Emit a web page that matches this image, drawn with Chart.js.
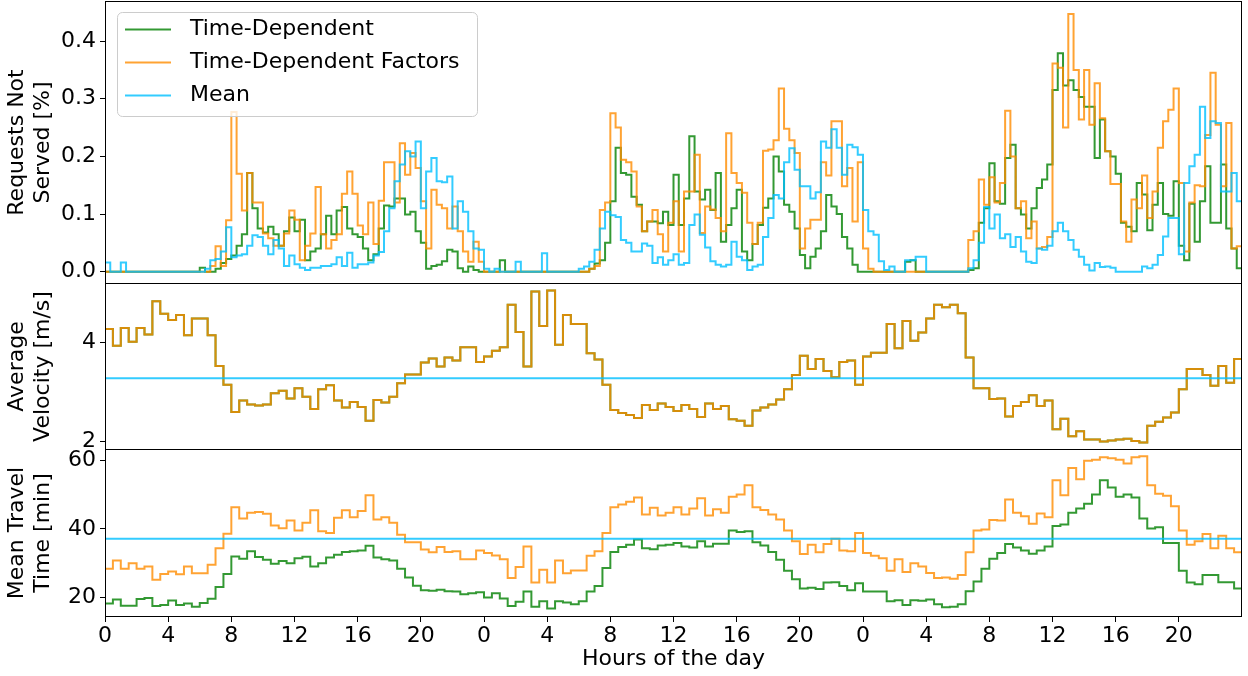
<!DOCTYPE html>
<html>
<head>
    <meta charset="UTF-8">
    <title>Requests, velocity and travel time over three days</title>
    <style>
        body {
            margin: 0;
            background: #fff;
        }
        #wrap {
            position: relative;
            width: 1248px;
            height: 676px;
        }
        canvas {
            position: absolute;
            left: 0;
        }
    </style>
</head>
<body>
    <div id="wrap">
        <canvas id="reqChart" width="1248" height="284" style="top:0px"></canvas>
        <canvas id="velChart" width="1248" height="167" style="top:283px"></canvas>
        <canvas id="ttChart" width="1248" height="227" style="top:449px"></canvas>
    </div>

    <script src="https://cdn.jsdelivr.net/npm/chart.js"></script>
    <script>
        // bin sizes in hours: requests every 20 min, velocity / travel time every 30 min
        const reqBinHours = 1 / 3;
        const aggBinHours = 0.5;

        const hourTicks = [0, 4, 8, 12, 16, 20, 24, 28, 32, 36, 40, 44, 48, 52, 56, 60, 64, 68];
        const reqTicks = [0, 0.1, 0.2, 0.3, 0.4];
        const velTicks = [2, 4];
        const ttTicks = [20, 40, 60];

        // Requests not served [%]
        const reqTimeDep = [
            0, 0, 0, 0, 0, 0, 0, 0, 0, 0, 0, 0, 0, 0, 0, 0, 0, 0,
            0.007, 0, 0, 0.005, 0.015, 0.022, 0.028, 0.045, 0.065, 0.171, 0.11, 0.075, 0.068, 0.078, 0.065, 0.045, 0.07, 0.094,
            0.07, 0.09, 0.02, 0.035, 0.04, 0.065, 0.097, 0.065, 0.106, 0.112, 0.075, 0.065, 0.06, 0.04, 0.02, 0.03, 0.075, 0.115,
            0.113, 0.127, 0.127, 0.099, 0.104, 0.07, 0.05, 0.005, 0.01, 0.012, 0.018, 0.038, 0.035, 0.006, 0, 0.009, 0.003, 0,
            0, 0, 0, 0.02, 0, 0, 0, 0, 0, 0, 0, 0, 0, 0, 0, 0, 0, 0,
            0, 0, 0.005, 0.014, 0.02, 0.05, 0.122, 0.215, 0.171, 0.168, 0.13, 0.116, 0.07, 0.087, 0.087, 0.084, 0.104, 0.081,
            0.168, 0.081, 0.127, 0.235, 0.139, 0.125, 0.142, 0.107, 0.171, 0.052, 0.081, 0.11, 0.142, 0.035, 0.02, 0.048, 0.081, 0.111,
            0.127, 0.2, 0.174, 0.116, 0.104, 0.075, 0.029, 0.006, 0.026, 0.04, 0.07, 0.133, 0.113, 0.1, 0.06, 0.04, 0.012, 0,
            0, 0, 0, 0, 0, 0, 0, 0, 0.017, 0.02, 0, 0, 0, 0, 0, 0, 0, 0,
            0, 0, 0.003, 0.006, 0.085, 0.11, 0.188, 0.122, 0.118, 0.197, 0.22, 0.11, 0.099, 0.075, 0.11, 0.145, 0.16, 0.186,
            0.315, 0.379, 0.323, 0.332, 0.315, 0.303, 0.286, 0.286, 0.197, 0.264, 0.209, 0.2, 0.17, 0.085, 0.078, 0.07, 0.154, 0.134,
            0.072, 0.116, 0.154, 0.1, 0.097, 0.157, 0.045, 0.02, 0.118, 0.052, 0.122, 0.183, 0.085, 0.085, 0.186, 0.075, 0.04, 0.006
        ];
        const reqFactors = [
            0, 0, 0, 0, 0, 0, 0, 0, 0, 0, 0, 0, 0, 0, 0, 0, 0, 0,
            0, 0, 0.01, 0.044, 0.01, 0.089, 0.277, 0.17, 0.106, 0.171, 0.12, 0.12, 0.066, 0.058, 0.045, 0.045, 0.066, 0.106,
            0.09, 0.02, 0.045, 0.066, 0.147, 0.065, 0.04, 0.055, 0.065, 0.135, 0.174, 0.135, 0.08, 0.065, 0.12, 0.048, 0.123, 0.19,
            0.19, 0.12, 0.223, 0.168, 0.206, 0.18, 0.122, 0.04, 0.142, 0.116, 0.11, 0.075, 0.113, 0.07, 0.035, 0.017, 0.052, 0.017,
            0, 0, 0, 0, 0, 0, 0, 0, 0, 0, 0, 0, 0, 0, 0, 0, 0, 0,
            0, 0, 0.005, 0.01, 0.107, 0.12, 0.275, 0.25, 0.194, 0.19, 0.174, 0.113, 0.07, 0.087, 0.107, 0.065, 0.035, 0.085,
            0.122, 0.035, 0.139, 0.139, 0.203, 0.067, 0.113, 0.108, 0.093, 0.07, 0.24, 0.171, 0.154, 0.137, 0.085, 0.048, 0.085, 0.21,
            0.212, 0.228, 0.318, 0.248, 0.228, 0.206, 0.04, 0.075, 0.09, 0.09, 0.19, 0.167, 0.261, 0.261, 0.148, 0.18, 0.087, 0.19,
            0.04, 0.005, 0, 0, 0, 0, 0, 0, 0, 0, 0, 0, 0, 0, 0, 0, 0, 0,
            0, 0, 0.055, 0.07, 0.16, 0.116, 0.164, 0.12, 0.154, 0.279, 0.2, 0.11, 0.122, 0.058, 0.087, 0.04, 0.043, 0.06,
            0.361, 0.354, 0.25, 0.447, 0.35, 0.264, 0.35, 0.255, 0.327, 0.266, 0.209, 0.152, 0.152, 0.087, 0.052, 0.125, 0.11, 0.167,
            0.093, 0.139, 0.215, 0.261, 0.281, 0.318, 0.154, 0.035, 0.12, 0.15, 0.148, 0.237, 0.345, 0.255, 0.148, 0.258, 0.04, 0.044
        ];
        const reqMean = [
            0.016, 0, 0, 0.016, 0, 0, 0, 0, 0, 0, 0, 0, 0, 0, 0, 0, 0, 0,
            0, 0.005, 0.02, 0.022, 0.035, 0.077, 0.025, 0.028, 0.03, 0.045, 0.063, 0.06, 0.045, 0.03, 0.055, 0.04, 0.01, 0.028,
            0.013, 0.007, 0.003, 0.007, 0.007, 0.01, 0.01, 0.013, 0.025, 0.01, 0.033, 0.007, 0.013, 0.013, 0.016, 0.028, 0.034, 0.07,
            0.11, 0.157, 0.186, 0.209, 0.2, 0.226, 0.11, 0.174, 0.197, 0.157, 0.155, 0.165, 0.075, 0.122, 0.104, 0.07, 0.04, 0.038,
            0.005, 0, 0.005, 0, 0, 0, 0.017, 0, 0, 0, 0, 0.032, 0, 0, 0, 0, 0, 0,
            0.005, 0.009, 0.017, 0.038, 0.075, 0.104, 0.098, 0.095, 0.055, 0.05, 0.035, 0.035, 0.049, 0.045, 0.015, 0.025, 0.012, 0.02,
            0.03, 0.012, 0.015, 0.081, 0.099, 0.064, 0.042, 0.018, 0.012, 0.009, 0.012, 0.052, 0.026, 0.02, 0.003, 0.009, 0.012, 0.06,
            0.093, 0.133, 0.127, 0.19, 0.214, 0.177, 0.148, 0.148, 0.127, 0.138, 0.226, 0.215, 0.247, 0.215, 0.168, 0.22, 0.216, 0.203,
            0.107, 0.07, 0.064, 0.018, 0.003, 0.009, 0, 0, 0.02, 0.02, 0.026, 0.026, 0, 0, 0, 0, 0, 0,
            0, 0, 0.006, 0.02, 0.05, 0.112, 0.075, 0.099, 0.058, 0.065, 0.043, 0.06, 0.035, 0.017, 0.015, 0.04, 0.038, 0.045,
            0.07, 0.085, 0.07, 0.055, 0.038, 0.026, 0.012, 0.002, 0.015, 0.008, 0.009, 0.007, 0, 0, 0, 0, 0, 0.009,
            0.006, 0.012, 0.029, 0.061, 0.093, 0.093, 0.03, 0.154, 0.183, 0.203, 0.286, 0.232, 0.261, 0.258, 0.139, 0.139, 0.171, 0.122
        ];

        // Average velocity [m/s] (same for both time-dependent variants)
        const velocity = [
            4.27, 3.93, 4.29, 4.01, 4.29, 4.16, 4.83, 4.58, 4.45, 4.55, 4.14, 4.48,
            4.48, 4.14, 3.52, 3.14, 2.59, 2.82, 2.74, 2.72, 2.74, 2.97, 3.02, 2.86,
            3.07, 2.9, 2.65, 3.05, 3.13, 2.82, 2.68, 2.79, 2.69, 2.41, 2.83, 2.78,
            2.9, 3.17, 3.35, 3.35, 3.59, 3.67, 3.51, 3.69, 3.63, 3.9, 3.9, 3.6,
            3.71, 3.83, 3.9, 4.76, 4.21, 3.51, 5.03, 4.33, 5.05, 3.95, 4.55, 4.37,
            4.37, 3.78, 3.65, 3.14, 2.63, 2.57, 2.53, 2.47, 2.73, 2.63, 2.76, 2.69,
            2.61, 2.73, 2.65, 2.49, 2.76, 2.65, 2.71, 2.44, 2.41, 2.31, 2.62, 2.68,
            2.74, 2.84, 3.05, 3.34, 3.73, 3.46, 3.66, 3.42, 3.29, 3.6, 3.63, 3.14,
            3.71, 3.79, 3.79, 4.37, 3.88, 4.43, 4.03, 4.2, 4.48, 4.76, 4.71, 4.76,
            4.59, 3.69, 3.07, 3.07, 2.85, 2.86, 2.5, 2.71, 2.79, 2.93, 2.71, 2.82,
            2.24, 2.45, 2.1, 2.2, 2.03, 2.03, 1.99, 2.01, 2.03, 2.05, 2.0, 1.97,
            2.31, 2.39, 2.48, 2.58, 3.05, 3.46, 3.46, 3.34, 3.12, 3.52, 3.18, 3.66
        ];
        const meanVelocity = 3.27;

        // Mean travel time [min]
        const ttTimeDep = [
            18.3, 19.5, 17.7, 17.7, 19.6, 19.9, 17.6, 17.9, 19.2, 17.9, 18.3, 17.4,
            18.5, 19.7, 23.1, 26.9, 32.0, 31.3, 33.5, 31.8, 31.0, 29.9, 30.7, 30.0,
            31.5, 31.9, 29.1, 30.0, 31.7, 32.5, 33.3, 33.5, 33.7, 35.1, 31.7, 31.2,
            30.8, 28.4, 25.9, 23.5, 22.2, 22.0, 22.3, 21.9, 21.8, 21.0, 21.3, 21.6,
            20.1, 21.3, 19.8, 17.6, 18.8, 21.8, 17.4, 19.0, 16.9, 19.0, 18.6, 18.1,
            19.0, 21.8, 23.4, 28.6, 33.3, 34.7, 35.4, 36.9, 34.4, 34.1, 35.2, 35.4,
            35.9, 34.9, 34.6, 36.4, 34.9, 35.7, 35.7, 39.5, 39.1, 39.3, 36.1, 35.2,
            33.3, 31.0, 27.8, 25.4, 22.7, 22.9, 22.5, 24.4, 24.5, 23.4, 22.2, 24.2,
            21.8, 21.8, 21.8, 19.0, 19.3, 17.9, 19.3, 19.1, 19.5, 18.1, 17.2, 17.4,
            18.1, 21.9, 24.7, 28.4, 31.3, 33.0, 35.6, 34.6, 33.7, 32.8, 33.7, 34.9,
            40.8, 41.3, 44.7, 45.9, 47.3, 50.0, 54.1, 52.0, 49.3, 50.0, 49.1, 43.0,
            40.1, 40.5, 35.9, 35.9, 27.8, 24.4, 23.9, 26.6, 26.6, 24.5, 24.5, 22.7
        ];
        const ttFactors = [
            28.4, 30.8, 28.4, 30.0, 28.4, 29.1, 25.2, 26.9, 27.6, 26.8, 29.1, 27.1,
            27.1, 29.6, 34.4, 38.6, 46.3, 43.0, 44.7, 44.9, 44.4, 41.0, 40.2, 42.4,
            39.5, 41.8, 45.4, 39.3, 38.8, 43.2, 45.4, 43.4, 45.2, 49.8, 42.7, 43.4,
            41.8, 38.3, 36.1, 36.1, 34.0, 33.2, 34.7, 33.3, 33.5, 31.2, 31.2, 33.7,
            33.0, 32.3, 31.2, 25.7, 28.9, 34.9, 24.4, 28.1, 24.4, 30.8, 27.1, 27.9,
            27.9, 32.2, 33.5, 38.8, 46.3, 47.1, 47.9, 49.1, 44.2, 46.1, 43.9, 44.7,
            46.3, 44.2, 45.9, 48.9, 43.9, 45.7, 44.7, 49.3, 50.0, 52.7, 46.3, 45.5,
            44.2, 42.7, 39.5, 36.4, 32.7, 35.4, 33.2, 35.6, 37.1, 33.7, 33.5, 38.8,
            33.0, 32.2, 31.5, 27.8, 31.2, 27.5, 30.0, 29.1, 27.2, 25.7, 25.9, 25.5,
            26.6, 33.2, 39.5, 39.8, 42.6, 42.4, 48.5, 44.7, 43.7, 41.5, 44.5, 43.4,
            54.1, 49.8, 57.7, 54.4, 59.8, 60.1, 60.8, 60.5, 60.1, 59.0, 60.8, 61.1,
            52.7, 50.2, 49.6, 46.6, 39.5, 35.4, 36.4, 38.5, 34.4, 38.0, 34.4, 33.2
        ];
        const meanTravelTime = 37.1;

        const GREEN = 'rgba(0, 128, 0, 0.8)';
        const ORANGE = 'rgba(255, 140, 0, 0.8)';
        const BLUE = 'rgba(0, 191, 255, 0.8)';

        Chart.defaults.font.family = '"DejaVu Sans", sans-serif';
        Chart.defaults.font.size = 22;
        Chart.defaults.color = '#000';

        // turn bin values into points for a post-step line
        function steps(vals, bin) {
            const pts = vals.map((v, i) => ({ x: i * bin, y: v }));
            pts.push({ x: vals.length * bin, y: vals[vals.length - 1] });
            return pts;
        }

        function flat(v) {
            return [{ x: 0, y: v }, { x: 72, y: v }];
        }

        function line(label, pts, color, order) {
            return {
                label: label,
                data: pts,
                borderColor: color,
                backgroundColor: color,
                borderWidth: 2,
                pointRadius: 0,
                stepped: true,
                fill: false,
                order: order
            };
        }

        function xScale(show) {
            return {
                type: 'linear',
                min: 0,
                max: 72,
                display: show,
                afterBuildTicks: s => { s.ticks = hourTicks.map(v => ({ value: v })); },
                afterFit: s => {
                    if (show) s.height = 59;
                    s.paddingLeft = 0;
                    s.paddingRight = 0;
                },
                ticks: { padding: 1, maxRotation: 0, autoSkip: false, callback: v => String(v % 24) },
                grid: { drawOnChartArea: false, tickLength: 5, color: '#000' },
                border: { display: false },
                title: { display: show, text: 'Hours of the day', padding: { top: 0, bottom: 4 } }
            };
        }

        function yScale(min, max, tickVals, title, fmt) {
            return {
                min: min,
                max: max,
                afterBuildTicks: s => { s.ticks = tickVals.map(v => ({ value: v })); },
                afterFit: s => {
                    // keep the plot box flush with the canvas, labels may overhang
                    s.width = 105;
                    s.paddingTop = 0;
                    s.paddingBottom = 0;
                },
                ticks: { padding: 4, callback: v => fmt(v) },
                grid: { drawOnChartArea: false, tickLength: 5, color: '#000' },
                border: { display: false },
                title: { display: true, text: title, padding: { top: 4, bottom: 4 } }
            };
        }

        // black box round every panel
        const frame = {
            id: 'frame',
            afterDraw(chart) {
                const { ctx, chartArea: a } = chart;
                ctx.save();
                ctx.strokeStyle = '#000';
                ctx.lineWidth = 1;
                ctx.strokeRect(Math.round(a.left) + 0.5, Math.round(a.top) + 0.5,
                    Math.round(a.right - a.left) - 1, Math.round(a.bottom - a.top) - 1);
                ctx.restore();
            }
        };

        // matplotlib-like legend box in the upper left corner
        const boxLegend = {
            id: 'boxLegend',
            afterDatasetsDraw(chart) {
                const { ctx, chartArea: a } = chart;
                const left = a.left + 12, top = a.top + 11;
                ctx.save();
                ctx.beginPath();
                ctx.roundRect(left + 0.5, top + 0.5, 360, 104, 5);
                ctx.fillStyle = 'rgba(255, 255, 255, 0.8)';
                ctx.fill();
                ctx.strokeStyle = '#cccccc';
                ctx.lineWidth = 1;
                ctx.stroke();
                ctx.font = '22px "DejaVu Sans"';
                ctx.textBaseline = 'middle';
                chart.data.datasets.forEach((ds, i) => {
                    const y = top + 17.5 + i * 33;
                    ctx.strokeStyle = ds.borderColor;
                    ctx.lineWidth = 2;
                    ctx.beginPath();
                    ctx.moveTo(left + 8, y);
                    ctx.lineTo(left + 54, y);
                    ctx.stroke();
                    ctx.fillStyle = '#000';
                    ctx.fillText(ds.label, left + 73, y);
                });
                ctx.restore();
            }
        };

        function baseOptions(pad, xShow, y) {
            return {
                responsive: false,
                animation: false,
                devicePixelRatio: 1,
                layout: { padding: pad },
                plugins: { legend: { display: false }, tooltip: { enabled: false } },
                scales: { x: xScale(xShow), y: y }
            };
        }

        new Chart(document.getElementById('reqChart'), {
            type: 'line',
            data: {
                datasets: [
                    line('Time-Dependent', steps(reqTimeDep, reqBinHours), GREEN, 3),
                    line('Time-Dependent Factors', steps(reqFactors, reqBinHours), ORANGE, 2),
                    line('Mean', steps(reqMean, reqBinHours), BLUE, 1)
                ]
            },
            options: baseOptions({ top: 1, right: 6, bottom: 0, left: 0 }, false,
                yScale(-0.0214, 0.4696, reqTicks, ['Requests Not', 'Served [%]'], v => v.toFixed(1))),
            plugins: [frame, boxLegend]
        });

        // panels below share their top edge with the one above
        new Chart(document.getElementById('velChart'), {
            type: 'line',
            data: {
                datasets: [
                    line('Time-Dependent', steps(velocity, aggBinHours), GREEN, 3),
                    line('Time-Dependent Factors', steps(velocity, aggBinHours), ORANGE, 2),
                    line('Mean', flat(meanVelocity), BLUE, 1)
                ]
            },
            options: baseOptions({ top: 0, right: 6, bottom: 0, left: 0 }, false,
                yScale(1.82, 5.2, velTicks, ['Average', 'Velocity [m/s]'], v => String(v))),
            plugins: [frame]
        });

        new Chart(document.getElementById('ttChart'), {
            type: 'line',
            data: {
                datasets: [
                    line('Time-Dependent', steps(ttTimeDep, aggBinHours), GREEN, 3),
                    line('Time-Dependent Factors', steps(ttFactors, aggBinHours), ORANGE, 2),
                    line('Mean', flat(meanTravelTime), BLUE, 1)
                ]
            },
            options: baseOptions({ top: 0, right: 6, bottom: 0, left: 0 }, true,
                yScale(14.4, 63.2, ttTicks, ['Mean Travel', 'Time [min]'], v => String(v))),
            plugins: [frame]
        });
    </script>
</body>
</html>
